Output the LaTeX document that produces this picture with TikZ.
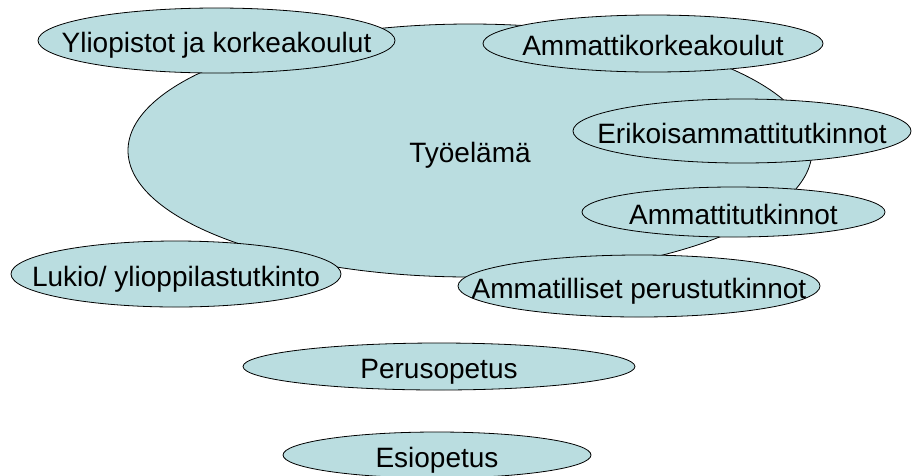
\documentclass[tikz,border=0pt]{standalone}
\usepackage{fontspec}
\setmainfont{Liberation Sans}
\usetikzlibrary{shapes.geometric}
\definecolor{bubfill}{RGB}{186,221,224}
\tikzset{
  bub/.style={ellipse, draw=black, line width=0.8pt, fill=bubfill, inner sep=0pt,
    text height=24pt, text depth=0pt, font=\fontsize{28}{32}\selectfont},
}
\newcommand{\zt}[1]{\makebox[0pt]{#1}}
\begin{document}
\begin{tikzpicture}[x=1pt,y=-1pt]
\useasboundingbox (0,0) rectangle (912,475);
\clip (0,0) rectangle (912,475);
\node[bub, minimum width=684pt, minimum height=253pt] (tyo) at (470,150.5) {\zt{Työelämä}};
\node[bub, minimum width=357pt, minimum height=65pt] (yli) at (216.5,40.5) {\zt{Yliopistot ja korkeakoulut}};
\node[bub, minimum width=340pt, minimum height=57pt] (amk) at (653,43.5) {\zt{Ammattikorkeakoulut}};
\node[bub, minimum width=338pt, minimum height=64pt] (eat) at (742,131) {\zt{Erikoisammattitutkinnot}};
\node[bub, minimum width=303pt, minimum height=50pt] (at) at (733.5,212) {\zt{Ammattitutkinnot}};
\node[bub, minimum width=330pt, minimum height=66pt] (luk) at (176,274) {\zt{Lukio/ ylioppilastutkinto}};
\node[bub, minimum width=362pt, minimum height=62pt] (apt) at (639,286) {\zt{Ammatilliset perustutkinnot}};
\node[bub, minimum width=392pt, minimum height=47pt] (per) at (439,366.5) {\zt{Perusopetus}};
\node[bub, minimum width=308pt, minimum height=46pt] (esi) at (437,455) {\zt{Esiopetus}};
\end{tikzpicture}
\end{document}
